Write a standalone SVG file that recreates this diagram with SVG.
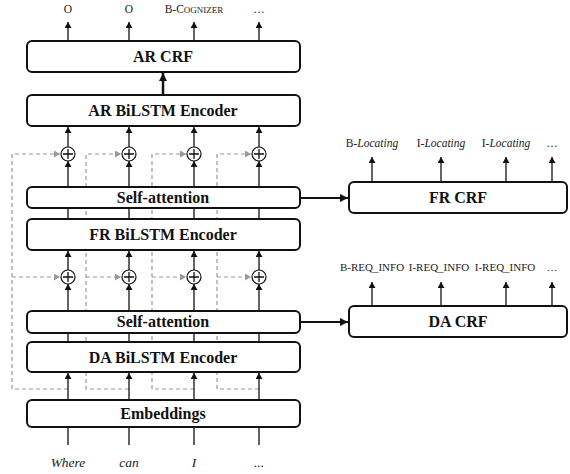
<svg xmlns="http://www.w3.org/2000/svg" width="570" height="474" viewBox="0 0 570 474">
<style>
.box{fill:#fff;stroke:#111;stroke-width:2}
.lbl{font-family:"Liberation Serif","Times New Roman",serif;font-weight:bold;font-size:16px;fill:#111;text-anchor:middle}
.out{font-family:"Liberation Serif","Times New Roman",serif;font-size:11.5px;fill:#222;text-anchor:middle}
.out2{font-family:"Liberation Serif","Times New Roman",serif;font-size:11px;fill:#222;text-anchor:middle}
.word{font-family:"Liberation Serif","Times New Roman",serif;font-style:italic;font-size:13.5px;fill:#222;text-anchor:middle}
.col{stroke:#111;stroke-width:1.3;fill:none}
.dash{stroke:#999;stroke-width:1.2;stroke-dasharray:4,3;fill:none}
.circ{fill:#fff;stroke:#111;stroke-width:1.2}
</style>
<defs>
<marker id="ah" markerUnits="userSpaceOnUse" markerWidth="6" markerHeight="7" refX="6" refY="3.5" orient="auto"><path d="M0,0 L6,3.5 L0,7 z" fill="#111"/></marker>
<marker id="ahg" markerUnits="userSpaceOnUse" markerWidth="6" markerHeight="7" refX="6" refY="3.5" orient="auto"><path d="M0,0 L6,3.5 L0,7 z" fill="#999"/></marker>
<marker id="ahb" markerUnits="userSpaceOnUse" markerWidth="8" markerHeight="8" refX="8" refY="4" orient="auto"><path d="M0,0 L8,4 L0,8 z" fill="#111"/></marker>
</defs>
<g id="connectors">
<g class="dash">
<path d="M68,389 H12 V154 H60" marker-end="url(#ahg)"/>
<path d="M12,277 H60" marker-end="url(#ahg)"/>
<path d="M129,389 H86 V154 H121" marker-end="url(#ahg)"/>
<path d="M86,277 H121" marker-end="url(#ahg)"/>
<path d="M194,389 H152 V154 H186" marker-end="url(#ahg)"/>
<path d="M152,277 H186" marker-end="url(#ahg)"/>
<path d="M259,389 H217 V154 H251" marker-end="url(#ahg)"/>
<path d="M217,277 H251" marker-end="url(#ahg)"/>
</g>
<g class="col">
<path d="M68,445 V427 M129,445 V427 M194,445 V427 M259,445 V427"/>
<path d="M68,400 V373" marker-end="url(#ah)"/><path d="M129,400 V373" marker-end="url(#ah)"/><path d="M194,400 V373" marker-end="url(#ah)"/><path d="M259,400 V373" marker-end="url(#ah)"/>
<path d="M68,342 V333 M129,342 V333 M194,342 V333 M259,342 V333"/>
<path d="M68,311 V284" marker-end="url(#ah)"/><path d="M129,311 V284" marker-end="url(#ah)"/><path d="M194,311 V284" marker-end="url(#ah)"/><path d="M259,311 V284" marker-end="url(#ah)"/>
<path d="M68,270 V251" marker-end="url(#ah)"/><path d="M129,270 V251" marker-end="url(#ah)"/><path d="M194,270 V251" marker-end="url(#ah)"/><path d="M259,270 V251" marker-end="url(#ah)"/>
<path d="M68,219 V208 M129,219 V208 M194,219 V208 M259,219 V208"/>
<path d="M68,187 V161" marker-end="url(#ah)"/><path d="M129,187 V161" marker-end="url(#ah)"/><path d="M194,187 V161" marker-end="url(#ah)"/><path d="M259,187 V161" marker-end="url(#ah)"/>
<path d="M68,147 V127" marker-end="url(#ah)"/><path d="M129,147 V127" marker-end="url(#ah)"/><path d="M194,147 V127" marker-end="url(#ah)"/><path d="M259,147 V127" marker-end="url(#ah)"/>
<path d="M68,41 V22" marker-end="url(#ah)"/><path d="M129,41 V22" marker-end="url(#ah)"/><path d="M194,41 V22" marker-end="url(#ah)"/><path d="M259,41 V22" marker-end="url(#ah)"/>
<path d="M372,182 V157" marker-end="url(#ah)"/><path d="M441,182 V157" marker-end="url(#ah)"/><path d="M506,182 V157" marker-end="url(#ah)"/><path d="M552,182 V157" marker-end="url(#ah)"/>
<path d="M372,306 V282" marker-end="url(#ah)"/><path d="M441,306 V282" marker-end="url(#ah)"/><path d="M506,306 V282" marker-end="url(#ah)"/><path d="M552,306 V282" marker-end="url(#ah)"/>
</g>
<path d="M163,95 V73" stroke="#111" stroke-width="2.5" fill="none" marker-end="url(#ahb)"/>
<path d="M300,198 H348" stroke="#111" stroke-width="2" fill="none" marker-end="url(#ahb)"/>
<path d="M300,322 H348" stroke="#111" stroke-width="2" fill="none" marker-end="url(#ahb)"/>
</g>
<g id="sum-nodes">
<g id="sum1"><circle class="circ" cx="68" cy="154" r="7"/><path class="col" d="M63,154 H73 M68,149 V159"/></g>
<g id="sum2"><circle class="circ" cx="129" cy="154" r="7"/><path class="col" d="M124,154 H134 M129,149 V159"/></g>
<g id="sum3"><circle class="circ" cx="194" cy="154" r="7"/><path class="col" d="M189,154 H199 M194,149 V159"/></g>
<g id="sum4"><circle class="circ" cx="259" cy="154" r="7"/><path class="col" d="M254,154 H264 M259,149 V159"/></g>
<g id="sum5"><circle class="circ" cx="68" cy="277" r="7"/><path class="col" d="M63,277 H73 M68,272 V282"/></g>
<g id="sum6"><circle class="circ" cx="129" cy="277" r="7"/><path class="col" d="M124,277 H134 M129,272 V282"/></g>
<g id="sum7"><circle class="circ" cx="194" cy="277" r="7"/><path class="col" d="M189,277 H199 M194,272 V282"/></g>
<g id="sum8"><circle class="circ" cx="259" cy="277" r="7"/><path class="col" d="M254,277 H264 M259,272 V282"/></g>
</g>
<g id="ar-crf"><rect class="box" x="27" y="41" width="273" height="31" rx="5"/><text class="lbl" x="163" y="62">AR CRF</text></g>
<g id="ar-bilstm"><rect class="box" x="27" y="95" width="273" height="31" rx="5"/><text class="lbl" x="163" y="116">AR BiLSTM Encoder</text></g>
<g id="self-attn-fr"><rect class="box" x="27" y="187" width="273" height="21" rx="5"/><text class="lbl" x="163" y="203">Self-attention</text></g>
<g id="fr-bilstm"><rect class="box" x="27" y="219" width="273" height="31" rx="5"/><text class="lbl" x="163" y="240">FR BiLSTM Encoder</text></g>
<g id="self-attn-da"><rect class="box" x="27" y="311" width="273" height="22" rx="5"/><text class="lbl" x="163" y="327">Self-attention</text></g>
<g id="da-bilstm"><rect class="box" x="27" y="342" width="273" height="30" rx="5"/><text class="lbl" x="163" y="363">DA BiLSTM Encoder</text></g>
<g id="embeddings"><rect class="box" x="27" y="400" width="273" height="27" rx="5"/><text class="lbl" x="163" y="419">Embeddings</text></g>
<g id="fr-crf"><rect class="box" x="349" y="182" width="218" height="31" rx="5"/><text class="lbl" x="458" y="203">FR CRF</text></g>
<g id="da-crf"><rect class="box" x="349" y="306" width="218" height="31" rx="5"/><text class="lbl" x="458" y="327">DA CRF</text></g>
<g id="ar-labels">
<text class="out" x="68" y="13">O</text>
<text class="out" x="129" y="13">O</text>
<text class="out" x="194" y="13">B-C<tspan font-size="9px">OGNIZER</tspan></text>
<text class="out" x="259" y="13">…</text>
</g>
<g id="fr-labels">
<text class="out" x="372" y="147">B-<tspan font-style="italic">Locating</tspan></text>
<text class="out" x="441" y="147">I-<tspan font-style="italic">Locating</tspan></text>
<text class="out" x="506" y="147">I-<tspan font-style="italic">Locating</tspan></text>
<text class="out" x="552" y="147">…</text>
</g>
<g id="da-labels">
<text class="out2" x="372" y="271">B-REQ_INFO</text>
<text class="out2" x="439" y="271">I-REQ_INFO</text>
<text class="out2" x="505" y="271">I-REQ_INFO</text>
<text class="out2" x="552" y="271">…</text>
</g>
<g id="words">
<text class="word" x="68" y="467">Where</text>
<text class="word" x="129" y="467">can</text>
<text class="word" x="194" y="467">I</text>
<text class="word" x="259" y="467">...</text>
</g>
</svg>
